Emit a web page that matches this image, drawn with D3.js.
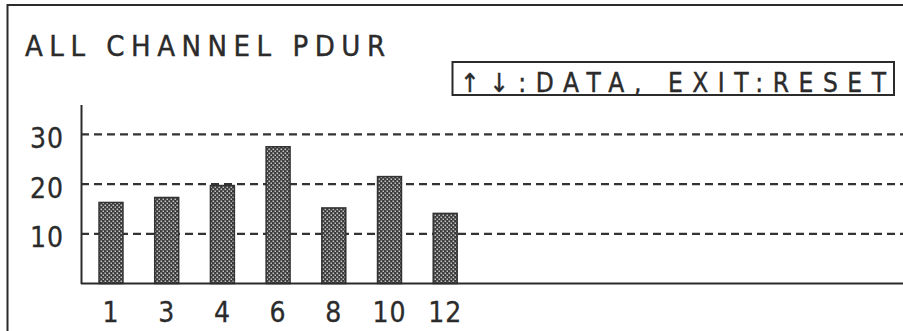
<!DOCTYPE html>
<html>
<head>
<meta charset="utf-8">
<script src="https://cdn.jsdelivr.net/npm/d3@7"></script>
<style>
  html, body { margin: 0; padding: 0; background: #fff; }
  svg { display: block; }
  text { font-family: "DejaVu Sans Condensed", "DejaVu Sans", sans-serif; font-stretch: condensed; fill: #2b2b2b; }
</style>
</head>
<body>
<script>
// Channel numbers shown on the display and their PDUR readings
const channels = ["1", "3", "4", "6", "8", "10", "12"];
const pdur = [16.3, 17.3, 19.7, 27.5, 15.2, 21.5, 14.1];
const yTicks = [10, 20, 30];
const titleText = "ALL CHANNEL PDUR";
const helpText = "↑↓:DATA, EXIT:RESET";

const W = 903, H = 331;
const ink = "#2b2b2b";

const svg = d3.select("body").append("svg")
  .attr("width", W).attr("height", H);

// Stippled fill used by the bars
const defs = svg.append("defs");
const pat = defs.append("pattern")
  .attr("id", "stipple")
  .attr("patternUnits", "userSpaceOnUse")
  .attr("width", 4).attr("height", 4);
pat.append("rect").attr("width", 4).attr("height", 4).attr("fill", "#3a3a3a");
pat.append("rect").attr("x", 0.5).attr("y", 0.5).attr("width", 1.6).attr("height", 1.6).attr("fill", "#c4c4c4");
pat.append("rect").attr("x", 2.5).attr("y", 2.5).attr("width", 1.6).attr("height", 1.6).attr("fill", "#c4c4c4");

// Screen frame: top and left edges
svg.append("path")
  .attr("d", `M7.5,${H} V5 H${W}`)
  .attr("fill", "none").attr("stroke", ink).attr("stroke-width", 2);

// Title
svg.append("text")
  .attr("x", 25).attr("y", 55.5)
  .attr("font-size", 29)
  .attr("stroke", "#2b2b2b").attr("stroke-width", 0.4)
  .attr("textLength", 360).attr("lengthAdjust", "spacing")
  .text(titleText);

// Key help box
svg.append("rect")
  .attr("x", 452.5).attr("y", 62).attr("width", 441.5).attr("height", 33)
  .attr("fill", "none").attr("stroke", ink).attr("stroke-width", 2);
svg.append("text")
  .attr("x", 460).attr("y", 92)
  .attr("font-size", 26)
  .attr("stroke", "#2b2b2b").attr("stroke-width", 0.4)
  .attr("textLength", 426).attr("lengthAdjust", "spacing")
  .text(helpText);

// Scales
const axisX = 81;
const y = d3.scaleLinear().domain([0, 36]).range([283.5, 104.5]);
const x = d3.scaleBand().domain(channels)
  .range([83.15, 83.15 + 7 * 55.7])
  .paddingInner(0.57).paddingOuter(0.285);

// Dashed reference lines
svg.append("g").selectAll("line").data(yTicks).join("line")
  .attr("x1", axisX).attr("x2", W)
  .attr("y1", d => y(d)).attr("y2", d => y(d))
  .attr("stroke", "#333").attr("stroke-width", 2.2)
  .attr("stroke-dasharray", "8,5");

// Bars
svg.append("g").selectAll("rect").data(pdur).join("rect")
  .attr("x", (d, i) => x(channels[i]))
  .attr("width", x.bandwidth())
  .attr("y", d => y(d))
  .attr("height", d => y(0) - y(d))
  .attr("fill", "url(#stipple)")
  .attr("stroke", "#333").attr("stroke-width", 1.5);

// Baseline across the full width
svg.append("line")
  .attr("x1", axisX).attr("x2", W)
  .attr("y1", y(0)).attr("y2", y(0))
  .attr("stroke", ink).attr("stroke-width", 2);

// Y axis
const gy = svg.append("g")
  .attr("transform", `translate(${axisX},0)`)
  .call(d3.axisLeft(y).tickValues(yTicks).tickSize(0).tickSizeOuter(0).tickPadding(17));
gy.attr("font-family", null);
gy.select(".domain").attr("stroke", ink).attr("stroke-width", 2);
gy.selectAll("text")
  .attr("font-size", 28)
  .attr("letter-spacing", 1)
  .attr("fill", ink)
  .attr("stroke", ink).attr("stroke-width", 0.3)
  .attr("y", 4);

// X axis labels
const gx = svg.append("g")
  .attr("transform", `translate(0,${y(0)})`)
  .call(d3.axisBottom(x).tickSize(0));
gx.select(".domain").remove();
gx.attr("font-family", null);
gx.selectAll("text")
  .attr("font-size", 28)
  .attr("letter-spacing", 1)
  .attr("fill", ink)
  .attr("stroke", ink).attr("stroke-width", 0.3)
  .attr("dy", null)
  .attr("y", 321.5 - y(0));
</script>
</body>
</html>
